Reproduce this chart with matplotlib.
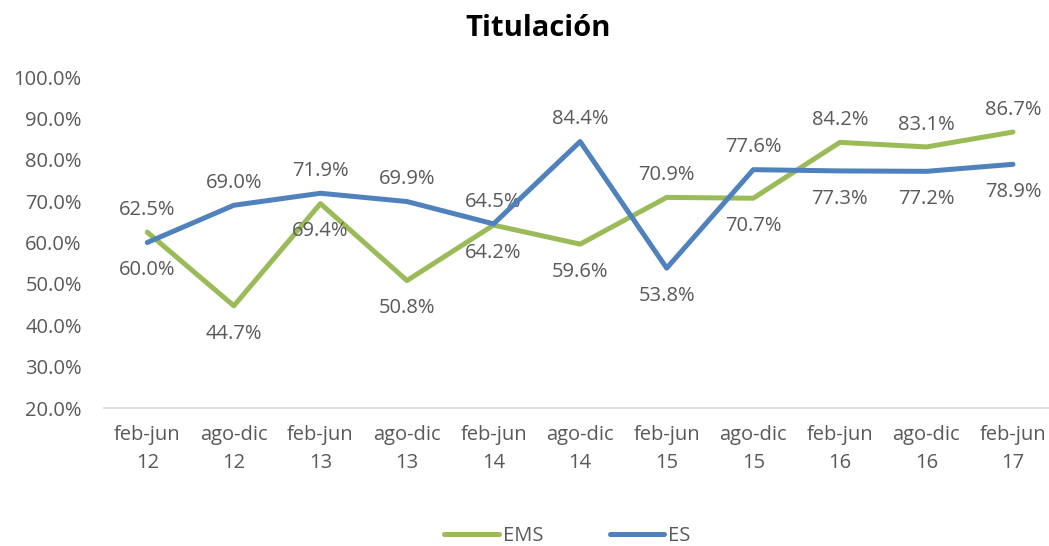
import numpy as np
import matplotlib
matplotlib.use("Agg")
import matplotlib.pyplot as plt
from matplotlib.ticker import FuncFormatter

plt.rcParams['font.family'] = ['Open Sans', 'DejaVu Sans']

periodos = ["feb-jun\n12", "ago-dic\n12", "feb-jun\n13", "ago-dic\n13", "feb-jun\n14",
            "ago-dic\n14", "feb-jun\n15", "ago-dic\n15", "feb-jun\n16", "ago-dic\n16",
            "feb-jun\n17"]
ems = [62.5, 44.7, 69.4, 50.8, 64.2, 59.6, 70.9, 70.7, 84.2, 83.1, 86.7]
es = [60.0, 69.0, 71.9, 69.9, 64.5, 84.4, 53.8, 77.6, 77.3, 77.2, 78.9]

verde = '#9BBB59'
azul = '#4F81BD'
gris = '#595959'

fig = plt.figure(figsize=(10.49, 5.46), dpi=100)
ax = fig.add_axes([104/1049, 138/546, 945/1049, 331/546])

x = np.arange(len(periodos))
ems_v = np.array(ems) / 100
es_v = np.array(es) / 100

ax.plot(x, ems_v, color=verde, lw=3.6, solid_capstyle='round', label='EMS', zorder=3)
ax.plot(x, es_v, color=azul, lw=3.6, solid_capstyle='round', label='ES', zorder=4)

# etiqueta arriba para la serie mayor, abajo para la menor
for i in range(len(x)):
    for v, otro in ((ems_v[i], es_v[i]), (es_v[i], ems_v[i])):
        arriba = v >= otro
        ax.annotate(f"{v*100:.1f}%", (x[i], v), xytext=(0, 16 if arriba else -20),
                    textcoords='offset points', ha='center', va='center',
                    fontsize=14.5, color=gris)

ax.set_xlim(-0.5, 10.416)
ax.set_ylim(0.2, 1.0)
ax.set_yticks(np.arange(0.2, 1.01, 0.1))
ax.yaxis.set_major_formatter(FuncFormatter(lambda v, p: f"{v*100:.1f}%"))
ax.set_xticks(x)
ax.set_xticklabels(periodos, linespacing=1.55)
ax.tick_params(axis='both', length=0, labelsize=14.5, labelcolor=gris)
ax.tick_params(axis='y', pad=16)
ax.tick_params(axis='x', pad=12)

for s in ['top', 'right', 'left']:
    ax.spines[s].set_visible(False)
ax.spines['bottom'].set_color('#D9D9D9')
ax.spines['bottom'].set_linewidth(1.2)

fig.text(0.513, 0.948, "Titulación", ha='center', va='center', fontsize=21,
         fontweight='bold', color='black')

leg = fig.legend(loc='center', bbox_to_anchor=(0.541, 0.018), ncol=2, frameon=False,
                 fontsize=14.5, handlelength=2.7, columnspacing=3.3, handletextpad=0.2)
for t in leg.get_texts():
    t.set_color(gris)

fig.savefig("out.png", dpi=100)
